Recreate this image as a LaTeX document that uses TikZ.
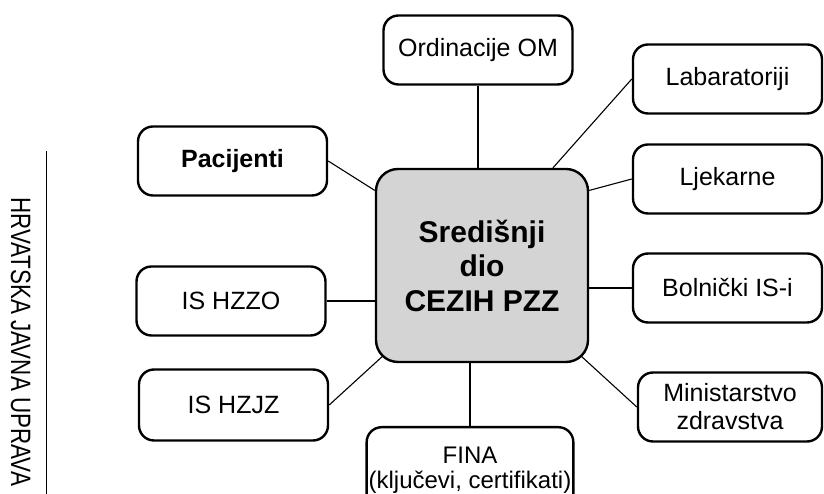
\documentclass[tikz,border=0pt]{standalone}
\usepackage{fontspec}
\setmainfont{Liberation Sans}
\newfontfamily\sidefont[FakeStretch=0.8]{Liberation Sans}
\usetikzlibrary{positioning,calc,backgrounds}
\definecolor{hubgray}{RGB}{212,212,212}

\begin{document}
\begin{tikzpicture}[x=1pt, y=1pt,
    member/.style={rectangle, draw, rounded corners=15pt, line width=2.4pt, minimum width=189pt, minimum height=69pt, align=center, inner sep=2pt, font=\fontsize{25}{28}\selectfont},
    hub/.style={rectangle, draw, fill=hubgray, rounded corners=22pt, line width=2.4pt, minimum width=212pt, minimum height=193pt, align=center, font=\fontsize{30}{34.5}\selectfont\bfseries},
    link/.style={line width=1.1pt}]

    \useasboundingbox (0,0) rectangle (824,494);
    \clip (0,0) rectangle (824,494);

    \node [hub] (hub) at (482,228.5) {Središnji\\dio\\CEZIH PZZ};

    \node [member] (ord) at (478,444) {Ordinacije OM};
    \node [member] (lab) at (727.5,415) {Labaratoriji};
    \node [member] (ljek) at (727.5,315) {Ljekarne};
    \node [member] (bol) at (727.5,206) {Bolnički IS-i};
    \node [member, minimum width=184pt] (min) at (730,87) {Ministarstvo\\zdravstva};
    \node [member, minimum width=204pt, minimum height=86pt, anchor=north, font=\fontsize{24}{25}\selectfont] (fina) at (470,68) {FINA\\(ključevi, certifikati)};
    \node [member, font=\fontsize{25}{28}\selectfont\bfseries] (pac) at (232.5,333) {Pacijenti};
    \node [member] (hzzo) at (231,193) {IS HZZO};
    \node [member, minimum height=71pt] (hzjz) at (233.5,89) {IS HZJZ};

    \node [rotate=-90, anchor=base west, inner sep=0pt, font=\sidefont\fontsize{28}{30}\selectfont] (upr) at (11,297) {HRVATSKA JAVNA UPRAVA};
    \draw [line width=1pt] (46,343) -- (46,-5);

    \begin{pgfonlayer}{background}
    \draw [link] (ord.south) -- (ord.south |- hub.north);
    \draw [link] (lab.west) -- (hub.54);
    \draw [link] (ljek.west) -- (hub.35);
    \draw [link] (bol.west) -- (bol.west -| hub.east);
    \draw [link] (min.west) -- (hub.center);
    \draw [link] (fina.north) -- (fina.north |- hub.south);
    \draw [link] (hzjz.east) -- (hub.center);
    \draw [link] (hzzo.east) -- (hzzo.east -| hub.west);
    \draw [link] (pac.east) -- (hub.145);
    \end{pgfonlayer}
\end{tikzpicture}
\end{document}
